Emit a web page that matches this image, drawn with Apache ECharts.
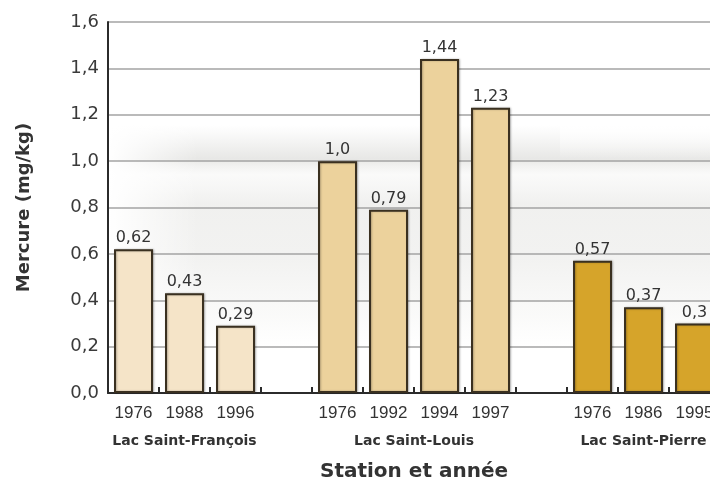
<!DOCTYPE html>
<html>
<head>
<meta charset="utf-8">
<script src="https://cdn.jsdelivr.net/npm/echarts@6/dist/echarts.min.js"></script>
<style>
  html, body { margin: 0; padding: 0; background: #fff; }
  #chart { width: 710px; height: 483px; }
</style>
</head>
<body>
<div id="chart"></div>
<script>
// données
var stations = ['Lac Saint-François', 'Lac Saint-Louis', 'Lac Saint-Pierre'];
var years1 = ['1976', '1988', '1996'];
var years2 = ['1976', '1992', '1994', '1997'];
var years3 = ['1976', '1986', '1995'];
var values1 = [0.62, 0.43, 0.29];
var values2 = [1.0, 0.79, 1.44, 1.23];
var values3 = [0.57, 0.37, 0.3];
var yTicks = [0, 0.2, 0.4, 0.6, 0.8, 1.0, 1.2, 1.4, 1.6];

var colors = ['#f5e4c8', '#ecd29c', '#d6a42a'];
var sans = 'Liberation Sans, Arial, Helvetica, sans-serif';
var wide = 'DejaVu Sans, Verdana, sans-serif';

// une catégorie vide entre chaque lac
var categories = [];
var barData = [];
var groupCenters = [];
[[years1, values1], [years2, values2], [years3, values3]].forEach(function (g, gi) {
    if (gi > 0) {
        categories.push('');
        barData.push('-');
    }
    var start = categories.length;
    g[0].forEach(function (y, i) {
        categories.push(y);
        barData.push({ value: g[1][i], itemStyle: { color: colors[gi] } });
    });
    groupCenters.push(start + g[0].length / 2);
});
var nSlots = categories.length;

var fmt = function (v) {
    return (Number.isInteger(v) ? v.toFixed(1) : String(v)).replace('.', ',');
};

var chart = echarts.init(document.getElementById('chart'), null, { renderer: 'canvas' });
var option = {
    animation: false,
    backgroundColor: '#fff',
    grid: { left: 108, top: 22, width: 612, height: 371, outerBoundsMode: 'none', containLabel: false },
    // fond photo estompé (approximation)
    graphic: [
        {
            type: 'rect', z: -6, silent: true,
            shape: { x: 110, y: 125, width: 600, height: 225 },
            style: {
                fill: new echarts.graphic.LinearGradient(0, 0, 0, 1, [
                    { offset: 0, color: 'rgba(140,140,130,0)' },
                    { offset: 0.07, color: 'rgba(120,120,110,0.08)' },
                    { offset: 0.15, color: 'rgba(125,125,115,0.18)' },
                    { offset: 0.22, color: 'rgba(190,190,185,0.08)' },
                    { offset: 0.35, color: 'rgba(150,150,140,0.14)' },
                    { offset: 0.6, color: 'rgba(150,150,140,0.12)' },
                    { offset: 0.85, color: 'rgba(170,170,160,0.06)' },
                    { offset: 1, color: 'rgba(200,200,190,0)' }
                ])
            }
        },
        {
            type: 'rect', z: -5, silent: true,
            shape: { x: 108, y: 120, width: 90, height: 235 },
            style: {
                fill: new echarts.graphic.LinearGradient(0, 0, 1, 0, [
                    { offset: 0, color: 'rgba(255,255,255,1)' },
                    { offset: 1, color: 'rgba(255,255,255,0)' }
                ])
            }
        },
        {
            type: 'rect', z: -5, silent: true,
            shape: { x: 560, y: 120, width: 150, height: 40 },
            style: {
                fill: new echarts.graphic.LinearGradient(0, 0, 0, 1, [
                    { offset: 0, color: 'rgba(255,255,255,1)' },
                    { offset: 1, color: 'rgba(255,255,255,0)' }
                ])
            }
        }
    ],
    xAxis: [
        {
            type: 'category',
            data: categories,
            position: 'bottom',
            axisLine: { lineStyle: { color: '#2b2b2b', width: 2 } },
            axisTick: { show: true, inside: true, length: 6, interval: 0, lineStyle: { color: '#2b2b2b', width: 2 } },
            axisLabel: { interval: 0, margin: 12, fontSize: 17, color: '#333', fontFamily: sans }
        },
        {
            type: 'value',
            position: 'bottom',
            min: 0,
            max: nSlots,
            axisLine: { show: false },
            axisTick: { show: false },
            splitLine: { show: false },
            axisLabel: {
                margin: 41,
                fontSize: 14,
                fontWeight: 'bold',
                color: '#333',
                fontFamily: wide,
                customValues: groupCenters,
                formatter: function (v) {
                    var i = groupCenters.indexOf(v);
                    return i >= 0 ? stations[i] : '';
                }
            },
            name: 'Station et année',
            nameLocation: 'middle',
            nameGap: 69,
            nameTextStyle: { fontSize: 20, fontWeight: 'bold', color: '#333', fontFamily: wide }
        }
    ],
    yAxis: {
        type: 'value',
        min: yTicks[0],
        max: yTicks[yTicks.length - 1],
        interval: 0.2,
        axisLine: { show: true, lineStyle: { color: '#2b2b2b', width: 2 } },
        axisTick: { show: false },
        splitLine: { lineStyle: { color: '#a3a3a3', width: 1.5 } },
        axisLabel: {
            margin: 9,
            fontSize: 18,
            color: '#3a3a3a',
            fontFamily: wide,
            formatter: function (v) { return v.toFixed(1).replace('.', ','); }
        },
        name: 'Mercure (mg/kg)',
        nameLocation: 'middle',
        nameRotate: 90,
        nameGap: 75,
        nameTextStyle: { fontSize: 18, fontWeight: 'bold', color: '#333', fontFamily: wide }
    },
    series: [
        {
            type: 'bar',
            xAxisIndex: 0,
            data: barData,
            barWidth: 39,
            itemStyle: {
                borderColor: '#3a3020',
                borderWidth: 2,
                shadowColor: 'rgba(0,0,0,0.25)',
                shadowBlur: 2,
                shadowOffsetX: 1
            },
            label: {
                show: true,
                position: 'top',
                distance: 3,
                fontSize: 16,
                color: '#333',
                fontFamily: wide,
                formatter: function (p) { return fmt(p.value); }
            }
        }
    ]
};
chart.setOption(option);
</script>
</body>
</html>
